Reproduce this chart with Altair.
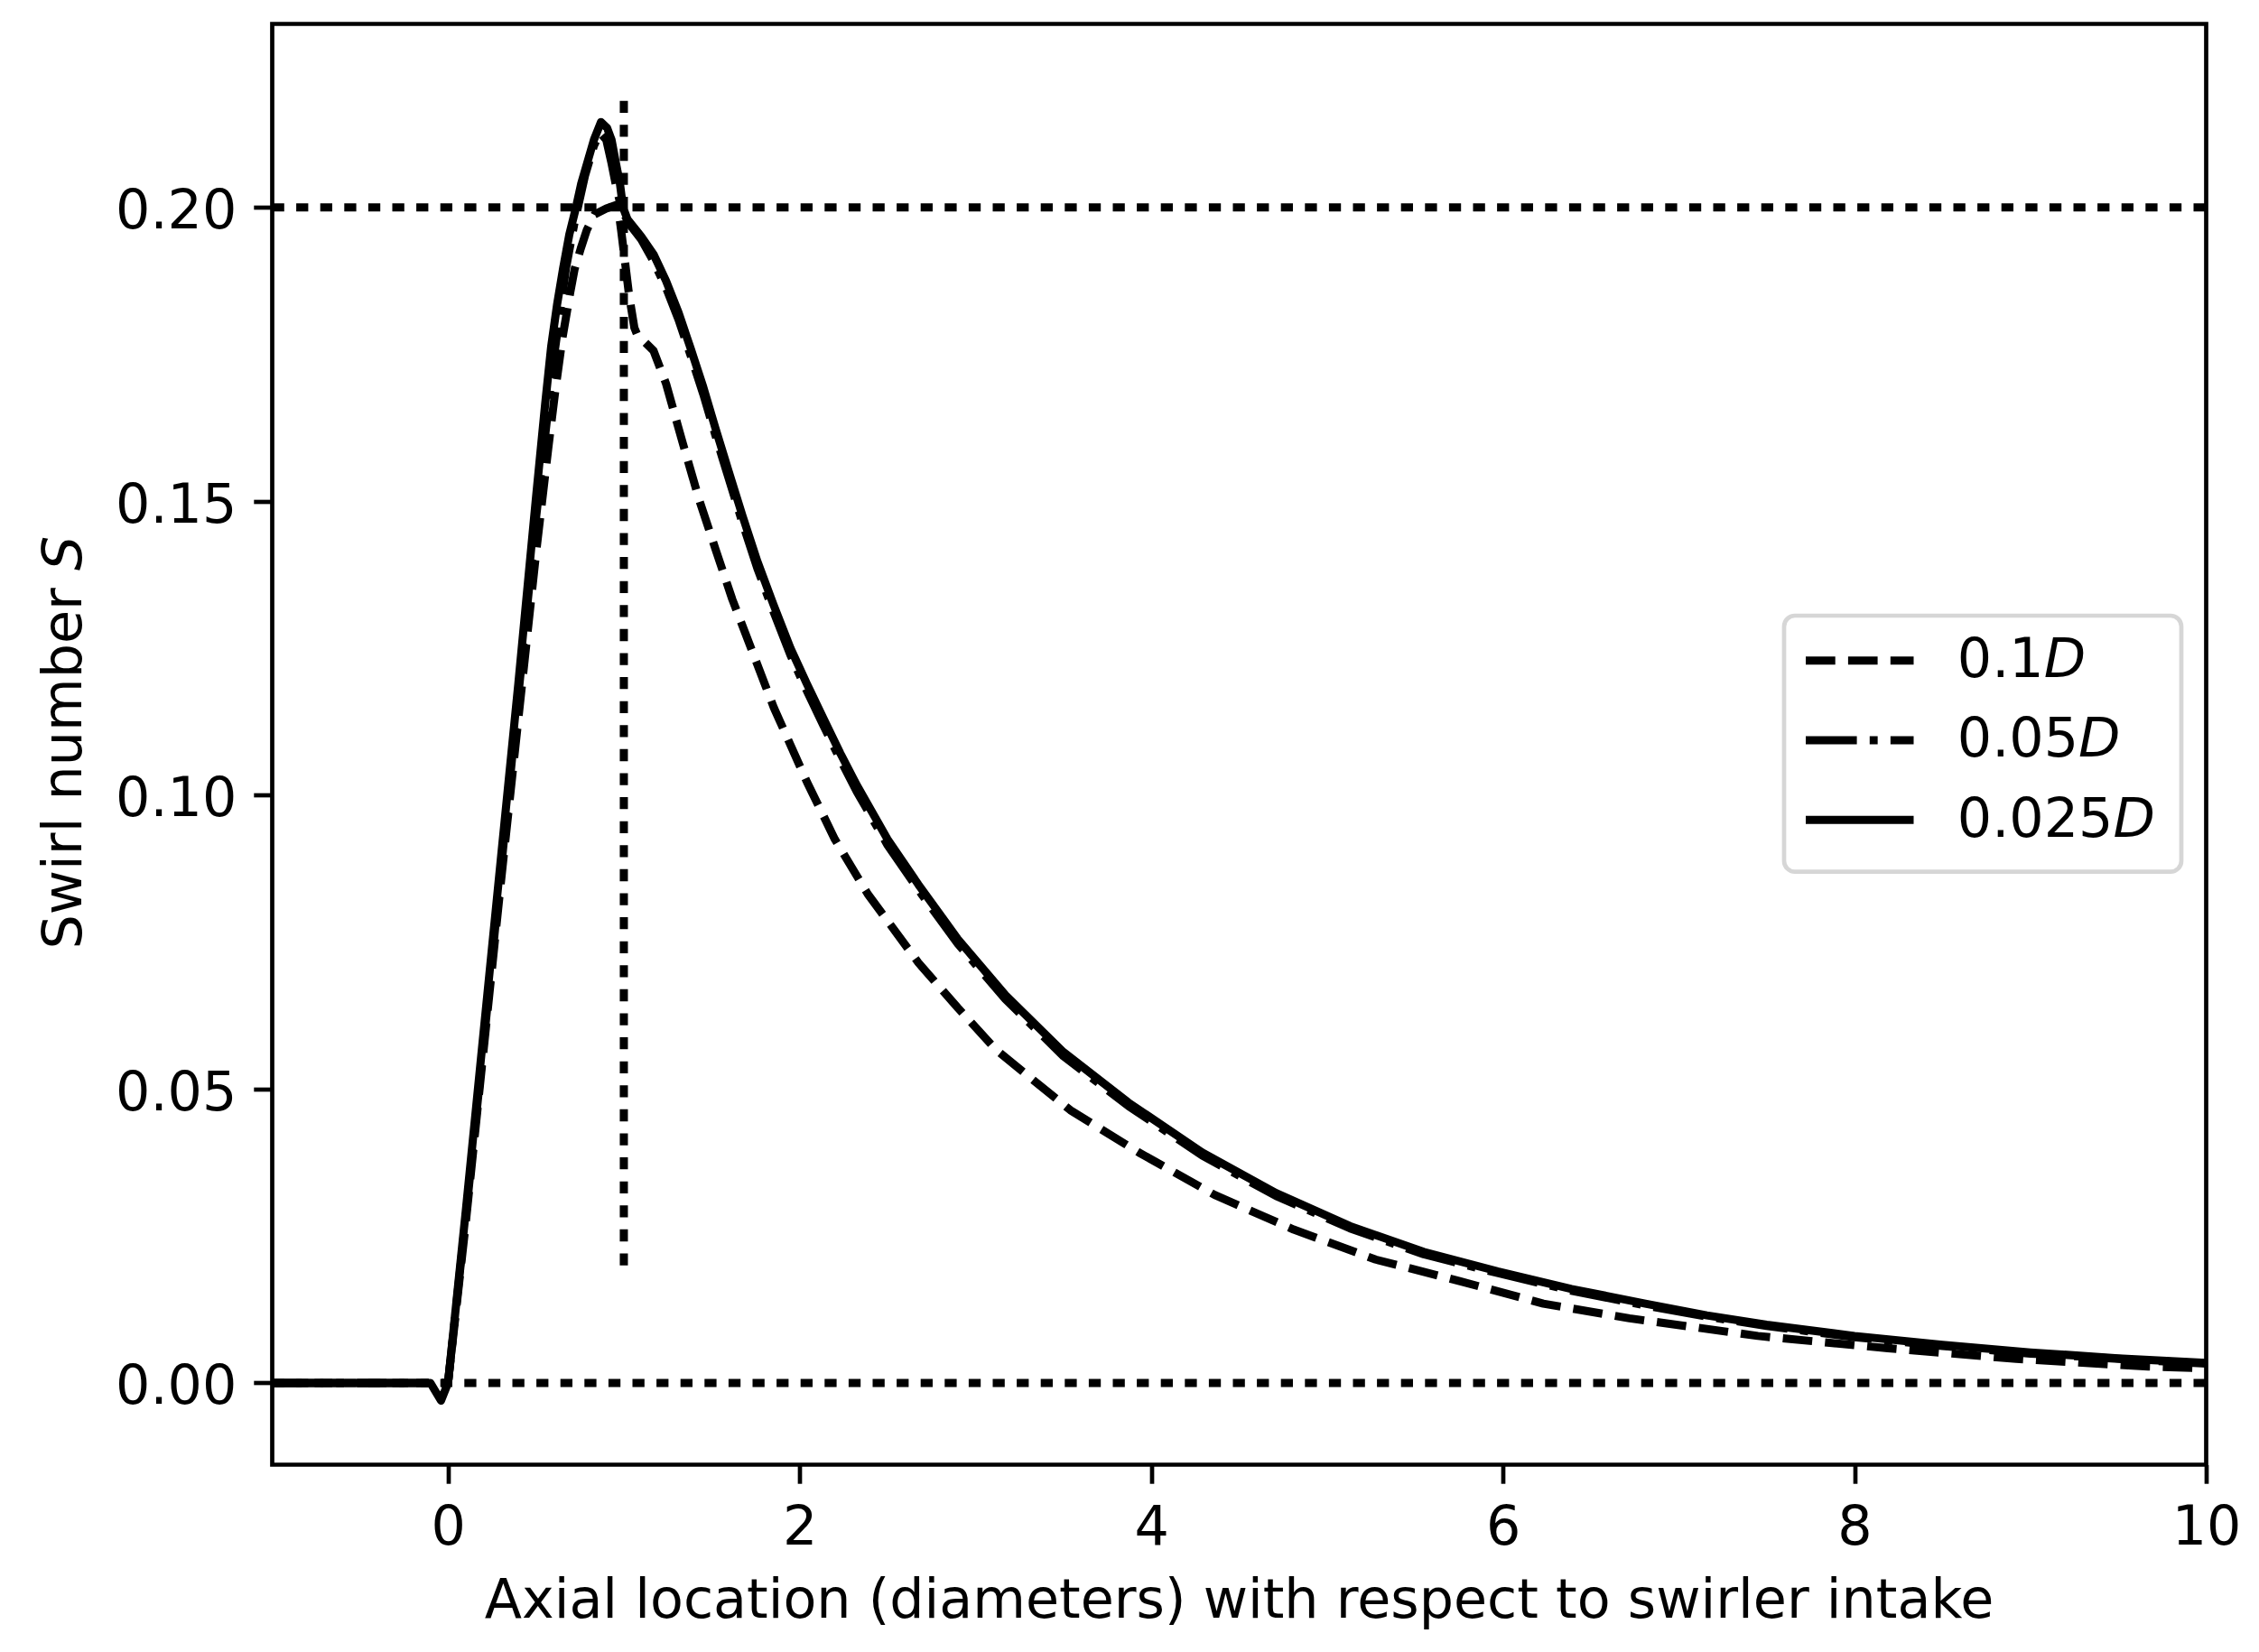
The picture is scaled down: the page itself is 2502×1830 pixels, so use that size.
import altair as alt
import pandas as pd

# ------------------------------------------------------------------ data
# 0.1D  (dashed)
x_01 = [-1.0, 0.0, 0.1, 0.2, 0.3, 0.4, 0.5, 0.57, 0.61, 0.652, 0.695, 0.72, 0.755, 0.79,
        0.834, 0.9, 0.965, 0.985, 1.03, 1.06, 1.075, 1.169, 1.24, 1.334, 1.429, 1.523,
        1.617, 1.735, 1.853, 2.042, 2.2, 2.387, 2.675, 2.9, 3.12, 3.54, 3.93, 4.36, 4.81,
        5.276, 5.758, 6.23, 6.72, 7.45, 8.19, 8.92, 9.67, 10.0]
s_01 = [0.0, 0.0, 0.027, 0.056, 0.085, 0.113, 0.141, 0.159, 0.1688, 0.178, 0.1855, 0.1895,
        0.1930, 0.1962, 0.1988, 0.1998, 0.2005, 0.1960, 0.1850, 0.1795, 0.1784, 0.1756,
        0.1700, 0.1600, 0.1502, 0.1417, 0.1333, 0.1241, 0.1149, 0.1022, 0.0925, 0.0832,
        0.0715, 0.0638, 0.0566, 0.0464, 0.0392, 0.0320, 0.0261, 0.0210, 0.0173, 0.0135,
        0.0110, 0.0080, 0.0059, 0.0041, 0.0028, 0.0025]

# 0.05D (dash-dot)
x_005 = [-1.0, 0.0, 0.1, 0.2, 0.3, 0.4, 0.5, 0.6, 0.67, 0.72, 0.78, 0.83, 0.865, 0.9, 0.93,
         0.96, 0.99, 1.03, 1.1, 1.169, 1.24, 1.311, 1.38, 1.452, 1.52, 1.594, 1.675, 1.759,
         1.85, 1.948, 2.04, 2.136, 2.23, 2.325, 2.5, 2.675, 2.9, 3.17, 3.5, 3.87, 4.29, 4.71,
         5.13, 5.55, 5.97, 6.39, 6.81, 7.16, 7.5, 8.0, 8.5, 9.0, 9.5, 10.0]
s_005 = [0.0, 0.0, 0.028, 0.057, 0.087, 0.117, 0.147, 0.174, 0.1895, 0.1975, 0.2055, 0.2105,
         0.2127, 0.2115, 0.2075, 0.2030, 0.1995, 0.1972, 0.1945, 0.1908, 0.1863, 0.1809,
         0.1748, 0.1682, 0.1613, 0.1541, 0.1463, 0.1386, 0.1313, 0.1238, 0.1178, 0.1118,
         0.1061, 0.1006, 0.0915, 0.0839, 0.0747, 0.0653, 0.0556, 0.0471, 0.0387, 0.0318,
         0.0263, 0.0219, 0.0187, 0.0157, 0.0132, 0.0113, 0.0097, 0.0078, 0.0063, 0.0050,
         0.0041, 0.0033]

# 0.025D (solid)
x_0025 = [-1.0, -0.1, -0.04, 0.0, 0.1, 0.2, 0.3, 0.4, 0.5, 0.553, 0.587, 0.621, 0.655, 0.69,
          0.724, 0.758, 0.792, 0.83, 0.87, 0.905, 0.93, 0.955, 0.978, 0.995, 1.02, 1.1,
          1.169, 1.24, 1.311, 1.38, 1.452, 1.52, 1.594, 1.675, 1.759, 1.85, 1.948, 2.04,
          2.136, 2.23, 2.325, 2.5, 2.675, 2.9, 3.17, 3.5, 3.87, 4.29, 4.71, 5.13, 5.55,
          5.97, 6.39, 6.81, 7.16, 7.5, 8.0, 8.5, 9.0, 9.5, 10.0]
s_0025 = [0.0, 0.0, -0.003, 0.0, 0.029, 0.059, 0.089, 0.119, 0.1505, 0.1667, 0.1764, 0.1836,
          0.1897, 0.1954, 0.1995, 0.2041, 0.2076, 0.2115, 0.2145, 0.2135, 0.2115, 0.2075,
          0.2040, 0.2000, 0.1980, 0.1950, 0.1920, 0.1875, 0.1821, 0.1760, 0.1694, 0.1625,
          0.1553, 0.1475, 0.1398, 0.1325, 0.1250, 0.1190, 0.1130, 0.1072, 0.1017, 0.0925,
          0.0848, 0.0755, 0.0660, 0.0563, 0.0477, 0.0392, 0.0323, 0.0267, 0.0223, 0.0190,
          0.0160, 0.0135, 0.0115, 0.0099, 0.0080, 0.0065, 0.0052, 0.0042, 0.0034]

series_labels = ["0.1", "0.05", "0.025"]
unit_label = "D"

hline_y = [0.0, 0.2]
hline_x = [-1.0, 10.0]
vline_x = [1.0]
vline_y = [0.02, 0.22]

x_ticks = [0, 2, 4, 6, 8, 10]
y_ticks = [0.0, 0.05, 0.10, 0.15, 0.20]
x_title = "Axial location (diameters) with respect to swirler intake"
y_title_main = "Swirl number"
y_title_sym = "S"

# ------------------------------------------------------------------ style / layout
W, H = 2142, 1596
FONT = "DejaVu Sans"
FS = 60.3
LW = 9.0
SPINE = 4.7
TICK = 20.7
DASH = [32.7, 14.2]
DASHDOT = [56.6, 14.2, 8.85, 14.2]
DOT = [13.3, 13.3]

xscale = alt.Scale(domain=[-1, 10], nice=False, zero=False)
yscale = alt.Scale(domain=[-0.0139, 0.2312], nice=False, zero=False)

xaxis = alt.Axis(values=x_ticks, format="d", title=None, grid=False, domain=False,
                 tickColor="black", tickWidth=SPINE, tickSize=TICK,
                 labelFont=FONT, labelFontSize=FS, labelColor="black",
                 labelPadding=19, labelFlush=False, labelOverlap=False)
yaxis = alt.Axis(values=y_ticks, format=".2f", title=None, grid=False, domain=False,
                 tickColor="black", tickWidth=SPINE, tickSize=TICK,
                 labelFont=FONT, labelFontSize=FS, labelColor="black",
                 labelPadding=19, labelBaseline="middle", labelOffset=5,
                 labelFlush=False, labelOverlap=False)


def curve(xs, ys, dash=None):
    df = pd.DataFrame({"x": xs, "s": ys})
    kw = dict(color="black", strokeWidth=LW, clip=True, strokeJoin="round", strokeCap="butt")
    if dash is not None:
        kw["strokeDash"] = dash
    return alt.Chart(df).mark_line(**kw).encode(
        x=alt.X("x:Q", scale=xscale, axis=xaxis),
        y=alt.Y("s:Q", scale=yscale, axis=yaxis),
    )


hdf = pd.DataFrame({"y": hline_y, "x": [hline_x[0]] * len(hline_y), "x2": [hline_x[1]] * len(hline_y)})
href = alt.Chart(hdf).mark_rule(color="black", strokeWidth=LW, strokeDash=DOT).encode(
    x=alt.X("x:Q", scale=xscale, axis=xaxis), x2="x2:Q",
    y=alt.Y("y:Q", scale=yscale, axis=yaxis))

vdf = pd.DataFrame({"x": vline_x, "y": [vline_y[0]], "y2": [vline_y[1]]})
vref = alt.Chart(vdf).mark_rule(color="black", strokeWidth=LW, strokeDash=DOT).encode(
    x=alt.X("x:Q", scale=xscale, axis=xaxis),
    y=alt.Y("y:Q", scale=yscale, axis=yaxis), y2="y2:Q")

layers = [href, vref,
          curve(x_01, s_01, DASH),
          curve(x_005, s_005, DASHDOT),
          curve(x_0025, s_0025)]

# ------------------------------------------------------------------ legend (manual, italic D)
one = pd.DataFrame({"a": [0]})
layers.append(alt.Chart(one).mark_rect(fill="white", fillOpacity=0.8, stroke="#cccccc",
                                       strokeOpacity=0.8, strokeWidth=SPINE, cornerRadius=12).encode(
    x=alt.value(1674.5), x2=alt.value(2114.5), y=alt.value(655.5), y2=alt.value(939.2)))

# DejaVu Sans advance widths (units per em 2048)
ADV = {"0": 1303, "1": 1303, "2": 1303, "5": 1303, ".": 651, " ": 651}
dashes = [DASH, DASHDOT, None]
row0_handle, row0_base, row_step = 705.2, 723.5, 88.3
text_x = 1866.3
for i, lab in enumerate(series_labels):
    hy = row0_handle + i * row_step
    by = row0_base + i * row_step
    kw = dict(color="black", strokeWidth=LW, strokeCap="butt")
    if dashes[i] is not None:
        kw["strokeDash"] = dashes[i]
    layers.append(alt.Chart(one).mark_rule(**kw).encode(
        x=alt.value(1698.5), x2=alt.value(1818), y=alt.value(hy)))
    tdf = pd.DataFrame({"t": [lab]})
    layers.append(alt.Chart(tdf).mark_text(font=FONT, fontSize=FS, color="black", align="left",
                                           baseline="alphabetic").encode(
        text="t:N", x=alt.value(text_x), y=alt.value(by)))
    wlab = sum(ADV[c] for c in lab) / 2048 * FS
    udf = pd.DataFrame({"t": [unit_label]})
    layers.append(alt.Chart(udf).mark_text(font=FONT, fontSize=FS, fontStyle="italic", color="black",
                                           align="left", baseline="alphabetic").encode(
        text="t:N", x=alt.value(text_x + wlab), y=alt.value(by)))

# ------------------------------------------------------------------ axis titles
layers.append(alt.Chart(pd.DataFrame({"t": [x_title]})).mark_text(
    font=FONT, fontSize=FS, color="black", align="center", baseline="alphabetic").encode(
    text="t:N", x=alt.value(W / 2), y=alt.value(1765)))

ytitle_start = 1025
main_w = (13599 + 651) / 2048 * FS
layers.append(alt.Chart(pd.DataFrame({"t": [y_title_main]})).mark_text(
    font=FONT, fontSize=FS, color="black", align="left", baseline="alphabetic", angle=270).encode(
    text="t:N", x=alt.value(-211.5), y=alt.value(ytitle_start)))
layers.append(alt.Chart(pd.DataFrame({"t": [y_title_sym]})).mark_text(
    font=FONT, fontSize=FS, fontStyle="italic", color="black", align="left",
    baseline="alphabetic", angle=270).encode(
    text="t:N", x=alt.value(-211.5), y=alt.value(ytitle_start - main_w)))

chart = alt.layer(*layers).properties(
    width=W, height=H,
    background="white",
    autosize=alt.AutoSizeParams(type="none"),
    padding={"left": 293.5, "top": 18.5, "right": 40, "bottom": 200},
).configure_view(stroke="black", strokeWidth=SPINE)

chart.save("out.html", embed_options={"renderer": "svg", "actions": False})
